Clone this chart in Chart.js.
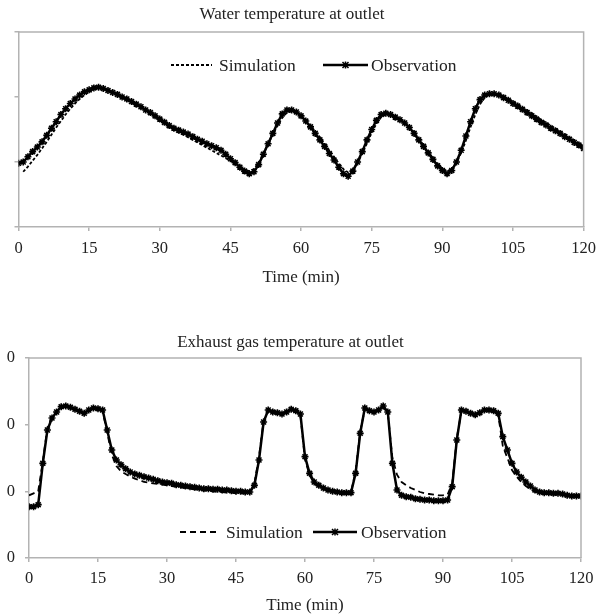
<!DOCTYPE html>
<html>
<head>
<meta charset="utf-8">
<script src="https://cdn.jsdelivr.net/npm/chart.js@4.4.1/dist/chart.umd.min.js"></script>
<style>
  html, body { margin: 0; padding: 0; background: #fff; }
  #water-box { position: absolute; left: 0; top: 0; width: 604px; height: 300px; }
  #gas-box { position: absolute; left: 0; top: 300px; width: 604px; height: 316px; }
</style>
</head>
<body>
<div id="water-box"><canvas id="water-chart"></canvas></div>
<div id="gas-box"><canvas id="gas-chart"></canvas></div>
<script>
// time axis, one reading per minute
let times = [];
for (let t = 0; t <= 120; t++) times.push(t);
let timeTicks = [0, 15, 30, 45, 60, 75, 90, 105, 120];

// water temperature at outlet
let waterObs = [29.8,30.0,30.8,31.6,32.3,33.1,34.1,35.2,36.2,37.3,38.2,39.0,39.7,40.3,40.8,41.1,41.4,41.5,41.3,41.0,
  40.7,40.4,40.0,39.7,39.3,38.9,38.5,38.0,37.6,37.1,36.6,36.1,35.6,35.2,34.9,34.6,34.3,33.9,33.5,33.2,
  32.8,32.5,32.2,31.8,31.2,30.5,29.9,29.2,28.6,28.2,28.5,29.6,31.2,32.8,34.4,36.0,37.4,38.0,38.0,37.7,
  37.1,36.3,35.4,34.4,33.4,32.4,31.3,30.3,29.2,28.2,27.8,28.6,30.0,31.6,33.4,35.0,36.4,37.3,37.5,37.3,
  36.9,36.5,36.0,35.3,34.4,33.4,32.4,31.4,30.4,29.4,28.7,28.2,28.7,30.0,31.8,34.0,36.2,38.2,39.6,40.3,
  40.5,40.5,40.3,39.9,39.5,39.0,38.6,38.1,37.6,37.1,36.6,36.1,35.7,35.2,34.8,34.4,33.9,33.5,33.0,32.6,32.1];
let waterSim = [null,28.5,29.3,30.2,31.1,32.1,33.1,34.2,35.3,36.3,37.3,38.2,39.0,39.7,40.3,40.8,41.2,41.4,41.3,41.0,
  40.7,40.3,39.9,39.5,39.1,38.7,38.3,37.9,37.4,37.0,36.5,36.0,35.5,35.0,34.6,34.2,33.8,33.4,33.0,32.6,
  32.2,31.8,31.4,31.0,30.6,30.2,29.7,29.2,28.8,28.6,28.9,29.9,31.3,32.8,34.2,35.6,36.8,37.6,37.8,37.6,
  37.1,36.4,35.6,34.7,33.8,32.8,31.8,30.8,29.8,28.9,28.4,28.8,29.9,31.3,32.9,34.5,35.9,36.9,37.3,37.3,
  37.0,36.6,36.0,35.3,34.5,33.6,32.6,31.6,30.6,29.7,29.0,28.6,28.9,29.9,31.4,33.3,35.4,37.3,38.9,39.9,
  40.4,40.5,40.4,40.1,39.7,39.3,38.9,38.4,38.0,37.5,37.0,36.5,36.1,35.6,35.2,34.7,34.3,33.8,33.4,32.9,32.4];
let waterTicks = [20, 30, 40, 50];

// exhaust gas temperature at outlet
let gasObs = [177,177,180,242,292,310,319,327,328,326,323,320,317,322,325,324,322,292,262,247,
  240,234,229,226,224,222,220,218,216,214,213,212,210,209,208,207,206,205,204,204,
  203,203,202,202,201,200,200,199,199,209,247,304,322,319,318,316,319,323,321,316,
  252,227,214,209,205,202,200,199,198,198,198,227,287,325,321,319,322,328,319,242,
  202,194,192,191,189,188,187,187,186,186,186,187,207,277,322,320,317,315,318,322,
  322,321,317,282,262,242,229,221,214,208,202,199,198,198,197,197,196,194,193,193,193];
let gasSim = [194,197,200,245,295,312,320,326,327,325,322,319,317,321,324,323,320,288,255,238,
  230,226,222,219,217,214,213,212,211,210,209,208,207,206,205,204,203,202,201,201,
  200,199,199,198,198,197,197,197,198,212,252,306,321,318,317,316,319,322,320,314,
  248,224,212,207,203,201,200,199,198,198,199,230,290,323,320,319,322,326,317,250,
  225,214,209,205,202,199,197,196,195,194,194,195,212,280,320,319,317,315,318,321,
  321,320,315,268,250,232,222,214,208,203,199,197,196,196,195,195,194,194,193,193,193];
let gasTicks = [100, 200, 300, 400];
let gasTickLabels = ['0', '0', '0', '0'];

const serif = 'Liberation Serif';
const axisGray = '#b3b3b3';

function pts(values) {
    return times.map((t, i) => ({x: t, y: values[i]}));
}

// gray frame on the top and right of the plot
const framePlugin = {
    id: 'frame',
    afterDatasetsDraw(chart) {
        const a = chart.chartArea, ctx = chart.ctx;
        ctx.save();
        ctx.strokeStyle = axisGray;
        ctx.lineWidth = 1.5;
        ctx.beginPath();
        ctx.moveTo(a.left, a.top);
        ctx.lineTo(a.right, a.top);
        ctx.lineTo(a.right, a.bottom);
        ctx.stroke();
        ctx.restore();
    }
};

// legend drawn inside the plot
const insideLegend = {
    id: 'insideLegend',
    afterDraw(chart, args, opts) {
        const ctx = chart.ctx, y = opts.y;
        ctx.save();
        ctx.strokeStyle = '#000';
        ctx.fillStyle = '#222';
        ctx.font = '17.5px "' + serif + '"';
        ctx.textBaseline = 'middle';
        // simulation sample
        ctx.lineWidth = 2;
        ctx.setLineDash(opts.dash);
        ctx.beginPath();
        ctx.moveTo(opts.simX[0], y);
        ctx.lineTo(opts.simX[1], y);
        ctx.stroke();
        ctx.setLineDash([]);
        ctx.fillText('Simulation', opts.simX[2], y + 1);
        // observation sample
        ctx.lineWidth = 2.5;
        ctx.beginPath();
        ctx.moveTo(opts.obsX[0], y);
        ctx.lineTo(opts.obsX[1], y);
        ctx.stroke();
        const mx = (opts.obsX[0] + opts.obsX[1]) / 2;
        ctx.lineWidth = 1.5;
        ctx.beginPath();
        ctx.moveTo(mx - 3, y - 3); ctx.lineTo(mx + 3, y + 3);
        ctx.moveTo(mx - 3, y + 3); ctx.lineTo(mx + 3, y - 3);
        ctx.moveTo(mx, y - 3.5); ctx.lineTo(mx, y + 3.5);
        ctx.stroke();
        ctx.fillText('Observation', opts.obsX[2], y + 1);
        ctx.restore();
    }
};

function makeConfig(o) {
    return {
        type: 'line',
        data: {
            datasets: [
                {
                    label: 'Observation',
                    data: pts(o.obs),
                    borderColor: '#000',
                    borderWidth: 2.5,
                    pointStyle: 'star',
                    pointRadius: 3.5,
                    pointBorderWidth: 1.6,
                    pointBorderColor: '#000',
                    pointBackgroundColor: '#000',
                    tension: 0
                },
                {
                    label: 'Simulation',
                    data: pts(o.sim),
                    borderColor: '#000',
                    borderWidth: 1.8,
                    borderDash: o.dash,
                    pointRadius: 0,
                    tension: 0
                }
            ]
        },
        options: {
            responsive: true,
            maintainAspectRatio: false,
            animation: false,
            layout: {padding: {left: 0, right: o.padRight, top: 0, bottom: 0}},
            plugins: {
                legend: {display: false},
                tooltip: {enabled: false},
                title: {
                    display: true,
                    text: o.title,
                    color: '#222',
                    font: {family: serif, size: 17, weight: 'normal'},
                    padding: o.titlePad
                },
                insideLegend: o.legend
            },
            scales: {
                x: {
                    type: 'linear',
                    min: 0,
                    max: 120,
                    afterBuildTicks: s => { s.ticks = timeTicks.map(v => ({value: v})); },
                    afterFit: s => { s.height = o.xHeight; },
                    ticks: {color: '#222', font: {family: serif, size: 16.5}, padding: o.xTickPad, maxRotation: 0},
                    grid: {drawOnChartArea: false, color: axisGray, tickLength: 4, lineWidth: 1.5},
                    border: {color: axisGray, width: 1.5},
                    title: {
                        display: true,
                        text: 'Time (min)',
                        color: '#222',
                        font: {family: serif, size: 17},
                        padding: {top: 0, bottom: o.xTitlePad}
                    }
                },
                y: {
                    min: o.yTicks[0],
                    max: o.yTicks[o.yTicks.length - 1],
                    afterBuildTicks: s => { s.ticks = o.yTicks.map(v => ({value: v})); },
                    afterFit: s => { s.width = o.yWidth; },
                    ticks: {
                        display: o.yLabels !== null,
                        color: '#222',
                        font: {family: serif, size: 16.5},
                        padding: 10,
                        callback: (v, i) => o.yLabels ? o.yLabels[i] : ''
                    },
                    grid: {drawOnChartArea: false, color: axisGray, tickLength: 4, lineWidth: 1.5},
                    border: {color: axisGray, width: 1.5}
                }
            }
        },
        plugins: [framePlugin, insideLegend]
    };
}

const waterChart = new Chart(document.getElementById('water-chart'), makeConfig({
    title: 'Water temperature at outlet',
    obs: waterObs,
    sim: waterSim,
    dash: [3, 2],
    yTicks: waterTicks,
    yLabels: null,
    yWidth: 18.5,
    padRight: 20,
    titlePad: {top: 4, bottom: 7.6},
    xHeight: 73,
    xTickPad: 8,
    xTitlePad: 12,
    legend: {y: 65, dash: [3, 2], simX: [171, 212, 219], obsX: [323, 368, 371]}
}));

const gasChart = new Chart(document.getElementById('gas-chart'), makeConfig({
    title: 'Exhaust gas temperature at outlet',
    obs: gasObs,
    sim: gasSim,
    dash: [6, 4],
    yTicks: gasTicks,
    yLabels: gasTickLabels,
    yWidth: 29,
    padRight: 23,
    titlePad: {top: 32.6, bottom: 5},
    xHeight: 58,
    xTickPad: 7,
    xTitlePad: 0,
    legend: {y: 232, dash: [6, 4], simX: [180, 220, 226], obsX: [313, 357, 361]}
}));
</script>
</body>
</html>
